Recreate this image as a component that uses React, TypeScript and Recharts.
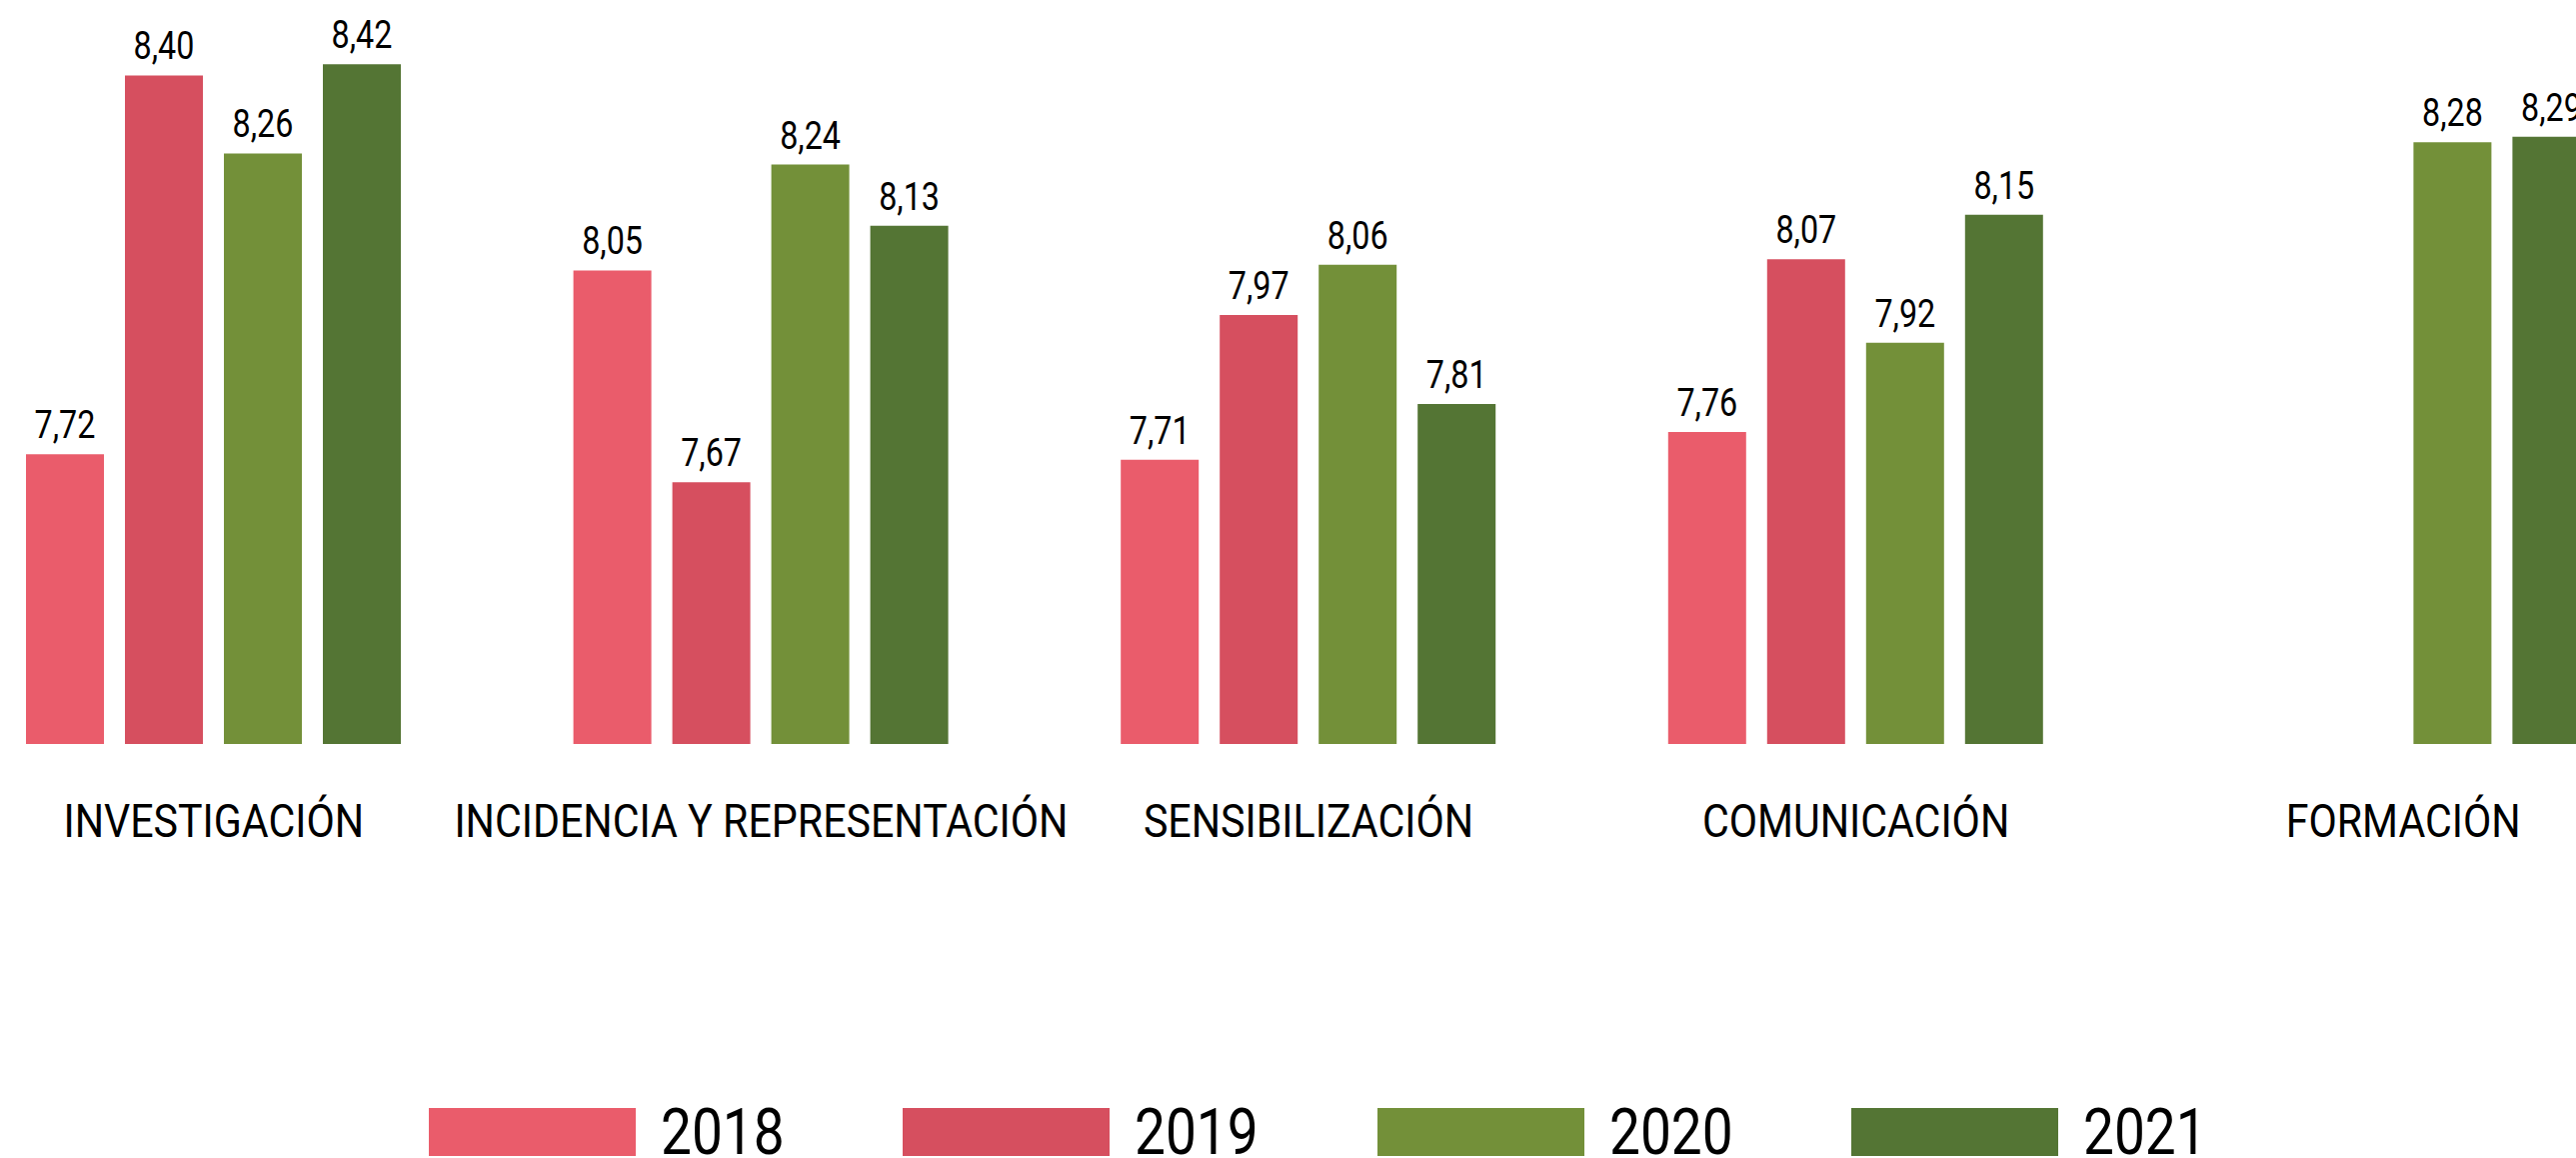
import React from 'react';
import { BarChart, Bar, XAxis, YAxis, Legend, LabelList } from 'recharts';

const categories = [
  'INVESTIGACIÓN',
  'INCIDENCIA Y REPRESENTACIÓN',
  'SENSIBILIZACIÓN',
  'COMUNICACIÓN',
  'FORMACIÓN',
];
const years = ['2018', '2019', '2020', '2021'];
const values2018: (number | null)[] = [7.72, 8.05, 7.71, 7.76, null];
const values2019: (number | null)[] = [8.4, 7.67, 7.97, 8.07, null];
const values2020: (number | null)[] = [8.26, 8.24, 8.06, 7.92, 8.28];
const values2021: (number | null)[] = [8.42, 8.13, 7.81, 8.15, 8.29];
const colors = ['#EA5C6B', '#D64F5F', '#739039', '#547534'];

const seriesValues = [values2018, values2019, values2020, values2021];

const data = categories.map((name, i) => {
  const row: Record<string, any> = { name };
  years.forEach((y, j) => {
    row['y' + y] = seriesValues[j][i];
  });
  return row;
});

const FONT = 'Roboto, "Noto Sans", sans-serif';

const CategoryTick = (props: any) => {
  const { x, y, payload } = props;
  return (
    <g transform={`translate(${x},${y}) scale(0.895,1)`}>
      <text x={0} y={0} dy="0.71em" textAnchor="middle" fontFamily={FONT} fontSize={46} fill="#000">
        {payload.value}
      </text>
    </g>
  );
};

const ValueLabel = (props: any) => {
  const { x, y, width, value } = props;
  if (value === null || value === undefined) return null;
  const cx = Number(x) + Number(width) / 2;
  const cy = Number(y) - 16;
  return (
    <g transform={`translate(${cx},${cy}) scale(0.85,1)`}>
      <text x={0} y={0} textAnchor="middle" fontFamily={FONT} fontSize={38} fill="#000">
        {Number(value).toFixed(2).replace('.', ',')}
      </text>
    </g>
  );
};

const LegendContent = () => (
  <div style={{ position: 'relative', height: 50, width: '100%' }}>
    {years.map((y, i) => (
      <React.Fragment key={y}>
        <div
          style={{
            position: 'absolute',
            left: 489 + i * 474.3,
            top: 0,
            width: 207,
            height: 48,
            background: colors[i],
          }}
        />
        <span
          style={{
            position: 'absolute',
            left: 489 + i * 474.3 + 232,
            top: 1,
            fontSize: 64,
            lineHeight: '48px',
            height: 48,
            fontFamily: FONT,
            color: '#000',
            whiteSpace: 'nowrap',
            transform: 'scaleX(0.86)',
            transformOrigin: 'left top',
          }}
        >
          {y}
        </span>
      </React.Fragment>
    ))}
  </div>
);

export default function App() {
  return (
    <div
      style={{
        position: 'fixed',
        left: 0,
        top: 0,
        width: 2577,
        height: 1158,
        overflow: 'hidden',
        background: '#fff',
      }}
    >
      <div style={{ position: 'absolute', left: -160, top: 0 }}>
        <BarChart
          width={2938}
          height={1158}
          data={data}
          margin={{ top: 18, right: 100, bottom: 0, left: 100 }}
          barSize={78}
          barGap={21}
        >
          <XAxis
            dataKey="name"
            axisLine={false}
            tickLine={false}
            tickSize={0}
            tickMargin={60}
            height={364}
            interval={0}
            tick={<CategoryTick />}
          />
          <YAxis hide domain={[7.2, 8.503]} />
          <Legend verticalAlign="bottom" content={<LegendContent />} />
          {years.map((y, i) => (
            <Bar key={y} dataKey={'y' + y} name={y} fill={colors[i]} isAnimationActive={false}>
              <LabelList dataKey={'y' + y} content={<ValueLabel />} />
            </Bar>
          ))}
        </BarChart>
      </div>
    </div>
  );
}
